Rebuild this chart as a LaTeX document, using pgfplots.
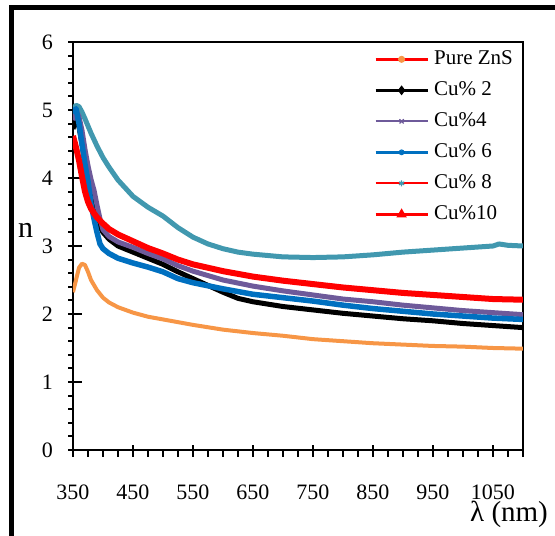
\documentclass[border=0pt]{standalone}
\usepackage{fontspec}
\setmainfont{Liberation Serif}
\usepackage{pgfplots}
\pgfplotsset{compat=1.18}

\definecolor{znsorange}{HTML}{F79646}
\definecolor{cuteal}{HTML}{4198AF}
\definecolor{cupurple}{HTML}{6E5A9A}
\definecolor{cublue}{HTML}{0070C0}

\begin{document}
\begin{tikzpicture}
% outer frame (cut off at right and bottom)
\fill[black] (9pt,0pt) rectangle (14pt,530.5pt);
\fill[black] (9pt,525.5pt) rectangle (555pt,530.5pt);
% axis ticks as filled bars: box from (73,86) to (523,494); 25 nm = 15pt, 0.2 = 13.6pt
\foreach \i in {0,...,30}
    \fill[black] ({72pt+15pt*\i},86pt) rectangle ++(2pt,-7pt);
\foreach \i in {0,4,...,28}
    \fill[black] ({71.75pt+15pt*\i},91pt) rectangle ++(2.5pt,-12pt);
\foreach \i in {0,...,30}
    \fill[black] (73pt,{85pt+13.6pt*\i}) rectangle ++(-5.5pt,2pt);
\foreach \i in {0,5,...,30}
    \fill[black] (82pt,{84.75pt+13.6pt*\i}) rectangle ++(-14.5pt,2.5pt);

\begin{axis}[
    at={(73pt,86pt)}, anchor=south west,
    scale only axis, width=450pt, height=408pt,
    xmin=350, xmax=1100, ymin=0, ymax=6,
    xtick={350,450,...,1050}, ytick={0,1,...,6},
    xtick style={draw=none}, ytick style={draw=none},
    axis line style={line width=2.5pt},
    /pgf/number format/assume math mode=true,
    /pgf/number format/1000 sep={},
    tick label style={font=\fontsize{22}{22}\selectfont, inner sep=0pt},
    xticklabel shift=35pt, yticklabel shift=20pt,
    legend style={at={(0.662,0.985)}, anchor=north west, draw=none, fill=none,
        font=\fontsize{21}{21}\selectfont,
        nodes={inner sep=0pt, text height=14pt, text depth=4pt},
        row sep=13pt, column sep=5pt},
    legend cell align=left,
    legend image code/.code={\draw[mark repeat=2,mark phase=2,#1] plot coordinates {(0pt,0pt)(26pt,0pt)(52pt,0pt)};},
]
% legend images
\addlegendimage{red, line width=2.5pt, mark=*, mark size=2.2pt, mark options={znsorange, fill=znsorange}}
\addlegendentry{Pure ZnS}
\addlegendimage{black, line width=3pt, mark=diamond*, mark size=2.5pt}
\addlegendentry{Cu\% 2}
\addlegendimage{cupurple, line width=2pt, mark=x, mark size=3pt, mark options={line width=1.2pt}}
\addlegendentry{Cu\%4}
\addlegendimage{cublue, line width=3pt, mark=o, mark size=2.3pt, mark options={fill=white, line width=1.2pt}}
\addlegendentry{Cu\% 6}
\addlegendimage{red, line width=2pt, mark=asterisk, mark size=3pt, mark options={cuteal, line width=1.2pt}}
\addlegendentry{Cu\% 8}
\addlegendimage{red, line width=3pt, mark=triangle*, mark size=3pt}
\addlegendentry{Cu\%10}

% Pure ZnS
\addplot[znsorange, line width=4pt, line join=round, forget plot] coordinates {
(350,2.32)(355,2.50)(360,2.68)(365,2.74)(370,2.72)(375,2.62)(380,2.50)(390,2.35)
(400,2.24)(410,2.17)(425,2.10)(450,2.02)(475,1.96)(500,1.92)(550,1.84)(600,1.77)
(650,1.72)(700,1.68)(750,1.63)(800,1.60)(850,1.57)(900,1.55)(950,1.53)(1000,1.52)
(1050,1.50)(1100,1.49)};
% Cu% 8
\addplot[cuteal, line width=5pt, line join=round, forget plot] coordinates {
(350,5.02)(355,5.07)(360,5.05)(365,4.97)(370,4.87)(380,4.66)(390,4.47)(400,4.30)
(410,4.16)(425,3.97)(450,3.73)(475,3.57)(500,3.44)(525,3.27)(550,3.13)(575,3.03)
(600,2.96)(625,2.91)(650,2.88)(700,2.84)(750,2.83)(800,2.84)(850,2.87)(900,2.91)
(950,2.94)(1000,2.97)(1050,3.00)(1060,3.03)(1075,3.01)(1100,3.00)};
% Cu% 2
\addplot[black, line width=5pt, line join=round, forget plot] coordinates {
(350,4.72)(355,4.90)(360,4.75)(365,4.50)(370,4.22)(375,4.00)(380,3.82)(385,3.62)
(390,3.42)(395,3.28)(400,3.20)(410,3.10)(425,3.00)(450,2.91)(475,2.82)(500,2.73)
(525,2.62)(550,2.52)(575,2.42)(600,2.32)(625,2.23)(650,2.18)(700,2.11)(750,2.06)
(800,2.01)(850,1.97)(900,1.93)(950,1.90)(1000,1.86)(1050,1.83)(1100,1.80)};
% Cu% 4
\addplot[cupurple, line width=5pt, line join=round, forget plot] coordinates {
(350,4.85)(355,5.00)(360,4.90)(365,4.70)(370,4.42)(375,4.18)(380,3.98)(385,3.82)
(390,3.60)(395,3.40)(400,3.24)(410,3.14)(425,3.06)(450,2.98)(475,2.89)(500,2.81)
(525,2.71)(550,2.63)(600,2.50)(650,2.41)(700,2.34)(750,2.28)(800,2.22)(850,2.18)
(900,2.13)(950,2.09)(1000,2.05)(1050,2.02)(1100,1.99)};
% Cu% 6
\addplot[cublue, line width=5.5pt, line join=round, forget plot] coordinates {
(350,4.95)(355,5.02)(360,4.80)(365,4.50)(370,4.20)(375,3.95)(380,3.62)(385,3.40)
(390,3.20)(395,3.03)(400,2.96)(410,2.89)(425,2.82)(450,2.75)(475,2.69)(500,2.62)
(525,2.52)(550,2.46)(600,2.37)(650,2.29)(700,2.24)(750,2.19)(800,2.13)(850,2.08)
(900,2.04)(950,2.00)(1000,1.97)(1050,1.94)(1100,1.92)};
% Cu% 10
\addplot[red, line width=6pt, line join=round, forget plot] coordinates {
(350,4.62)(355,4.45)(360,4.26)(365,4.02)(370,3.80)(375,3.65)(380,3.55)(385,3.48)
(390,3.42)(400,3.33)(410,3.25)(425,3.17)(450,3.07)(475,2.97)(500,2.89)(525,2.80)
(550,2.73)(600,2.63)(650,2.55)(700,2.49)(750,2.44)(800,2.39)(850,2.35)(900,2.31)
(950,2.28)(1000,2.25)(1050,2.22)(1100,2.21)};
\end{axis}

\node[anchor=base west, font=\fontsize{30}{30}\selectfont, inner sep=0pt] at (18pt,298pt) {n};
\node[anchor=base west, font=\fontsize{29}{29}\selectfont, inner sep=0pt] at (470pt,14pt) {λ (nm)};
\pgfresetboundingbox
\useasboundingbox (0pt,0pt) rectangle (555pt,536pt);
\end{tikzpicture}
\end{document}
